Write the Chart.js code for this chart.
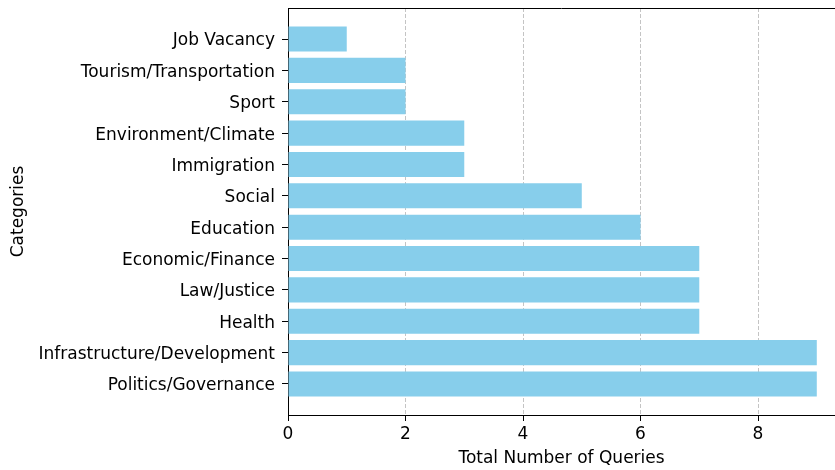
<!DOCTYPE html>
<html><head><meta charset="utf-8">
<script src="https://cdn.jsdelivr.net/npm/chart.js@4"></script>
<style>html,body{margin:0;padding:0;background:#fff}#wrap{width:835px;height:470px}</style>
</head><body><div id="wrap"><canvas id="c" width="835" height="470"></canvas></div>
<script>
const categories = ["Politics/Governance","Infrastructure/Development","Health","Law/Justice","Economic/Finance","Education","Social","Immigration","Environment/Climate","Sport","Tourism/Transportation","Job Vacancy"];
const queryCounts = [9,9,7,7,7,6,5,3,3,2,2,1];
const xTicks = [0,2,4,6,8];

const font = {family:"'DejaVu Sans', sans-serif", size:17};
const topSpine = {
  id:'topSpine',
  afterDraw(chart){
    const a = chart.chartArea, ctx = chart.ctx;
    ctx.save(); ctx.strokeStyle='#000'; ctx.lineWidth=1;
    ctx.beginPath(); ctx.moveTo(a.left, a.top+0.5); ctx.lineTo(a.right, a.top+0.5); ctx.stroke();
    ctx.restore();
  }
};
new Chart(document.getElementById('c'), {
  type:'bar',
  data:{
    datasets:[{
      data: categories.map((c,i)=>({x:queryCounts[i], y:i})),
      backgroundColor:'#87ceeb',
      barPercentage:0.8,
      categoryPercentage:1.0
    }]
  },
  options:{
    indexAxis:'y',
    responsive:false,
    animation:false,
    layout:{padding:{top:8,right:0,left:0,bottom:0}},
    plugins:{legend:{display:false},tooltip:{enabled:false}},
    scales:{
      x:{
        type:'linear', min:0, max:9.31,
        afterBuildTicks(s){ s.ticks = xTicks.map(v=>({value:v})); },
        afterFit(s){ s.height = 55; s.paddingLeft = 0; s.paddingRight = 0; },
        grid:{color:'rgba(176,176,176,0.75)', lineWidth:1, tickColor:'#000', tickBorderDash:[], tickLength:6, tickWidth:1},
        border:{display:true, color:'#000', width:1, dash:[4,2]},
        ticks:{font, color:'#000', padding:3, maxRotation:0},
        title:{display:true, text:'Total Number of Queries', font, color:'#000', padding:{top:2,bottom:1}}
      },
      y:{
        type:'linear', min:-0.99, max:11.99, offset:false,
        afterBuildTicks(s){ s.ticks = categories.map((c,i)=>({value:i})); },
        afterFit(s){ s.width = 288; s.paddingTop = 0; s.paddingBottom = 0; },
        grid:{drawOnChartArea:false, offset:false, tickColor:'#000', tickLength:6, tickWidth:1},
        border:{display:true, color:'#000', width:1},
        ticks:{font, color:'#000', padding:7, labelOffset:2, callback:(v)=>categories[v]},
        title:{display:true, text:'Categories', font, color:'#000', padding:{top:8,bottom:4}}
      }
    }
  },
  plugins:[topSpine]
});
</script></body></html>
